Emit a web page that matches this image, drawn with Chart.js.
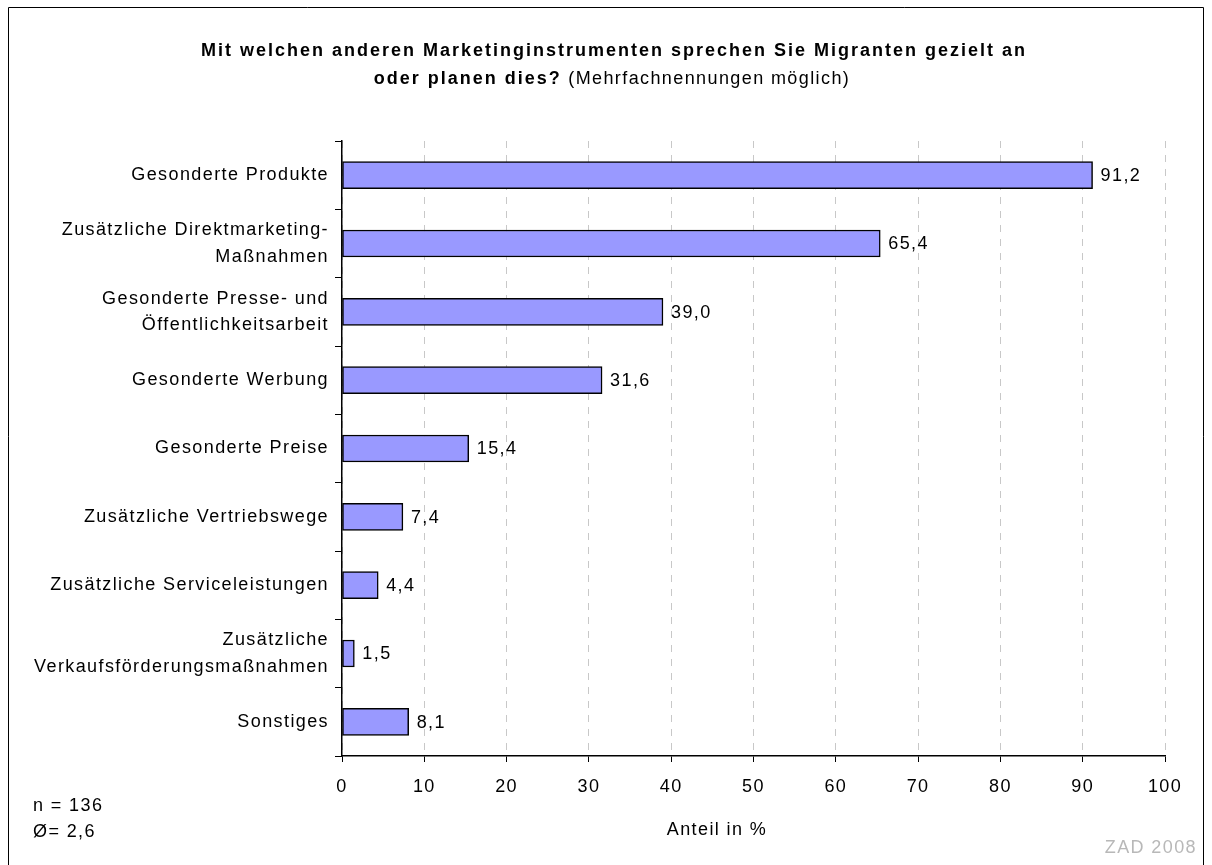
<!DOCTYPE html>
<html><head><meta charset="utf-8">
<script src="https://cdn.jsdelivr.net/npm/chart.js@4"></script>
<style>body{margin:0;background:#fff}canvas{display:block}</style>
</head><body>
<canvas id="c" width="1212" height="865"></canvas>
<script>
const categories = [
  "Gesonderte Produkte",
  ["Zusätzliche Direktmarketing-", "Maßnahmen"],
  ["Gesonderte Presse- und", "Öffentlichkeitsarbeit"],
  "Gesonderte Werbung",
  "Gesonderte Preise",
  "Zusätzliche Vertriebswege",
  "Zusätzliche Serviceleistungen",
  ["Zusätzliche", "Verkaufsförderungsmaßnahmen"],
  "Sonstiges"
];
const shares = [91.2, 65.4, 39.0, 31.6, 15.4, 7.4, 4.4, 1.5, 8.1];
const xTicks = [0, 10, 20, 30, 40, 50, 60, 70, 80, 90, 100];

const FONT = '"Liberation Sans", Arial, sans-serif';
const SP = '1.4px';
const fmt = v => v.toFixed(1).replace('.', ',');

const spacing = {
  id: 'spacing',
  beforeUpdate(chart) { chart.ctx.letterSpacing = SP; },
  beforeLayout(chart) { chart.ctx.letterSpacing = SP; },
  beforeDraw(chart) { chart.ctx.letterSpacing = SP; }
};

const extras = {
  id: 'extras',
  afterDraw(chart) {
    const ctx = chart.ctx;
    ctx.save();
    ctx.letterSpacing = SP;
    // frame
    ctx.strokeStyle = '#000'; ctx.lineWidth = 1;
    ctx.beginPath();
    ctx.moveTo(8.5, 870); ctx.lineTo(8.5, 7.5); ctx.lineTo(1203.5, 7.5); ctx.lineTo(1203.5, 870);
    ctx.stroke();
    // title
    ctx.fillStyle = '#000';
    ctx.textBaseline = 'middle';
    ctx.textAlign = 'center';
    ctx.letterSpacing = '2px';
    ctx.font = 'bold 18px ' + FONT;
    ctx.fillText('Mit welchen anderen Marketinginstrumenten sprechen Sie Migranten gezielt an', 614, 51);
    const b = 'oder planen dies?';
    ctx.letterSpacing = '2px';
    ctx.font = 'bold 18px ' + FONT; const wb = ctx.measureText(b).width;
    const n = ' (Mehrfachnennungen möglich)';
    ctx.letterSpacing = SP;
    ctx.font = '18px ' + FONT; const wn = ctx.measureText(n).width;
    let x0 = 612 - (wb + wn) / 2;
    ctx.textAlign = 'left';
    ctx.letterSpacing = '2px';
    ctx.font = 'bold 18px ' + FONT; ctx.fillText(b, x0, 79);
    ctx.letterSpacing = SP;
    ctx.font = '18px ' + FONT; ctx.fillText(n, x0 + wb, 79);
    // value labels
    const meta = chart.getDatasetMeta(0);
    ctx.font = '18px ' + FONT;
    ctx.textAlign = 'left';
    meta.data.forEach((bar, i) => {
      ctx.fillText(fmt(shares[i]), bar.x + 8, bar.y + 1);
    });
    // axis title
    ctx.textAlign = 'center';
    ctx.fillText('Anteil in %', 717, 830);
    // notes
    ctx.textAlign = 'left';
    ctx.fillText('n = 136', 33, 806);
    ctx.fillText('\u00D8= 2,6', 33, 832);
    ctx.fillStyle = '#b8b8b8';
    ctx.textAlign = 'right';
    ctx.fillText('ZAD 2008', 1197, 848);
    ctx.restore();
  }
};

new Chart(document.getElementById('c'), {
  type: 'bar',
  data: {
    labels: categories,
    datasets: [{
      data: shares,
      backgroundColor: '#9999FF',
      borderColor: '#000',
      borderWidth: 1.5,
      borderSkipped: false,
      barThickness: 27
    }]
  },
  options: {
    indexAxis: 'y',
    responsive: false,
    animation: false,
    layout: { padding: { left: 0, top: 141, right: 47, bottom: 0 } },
    plugins: { legend: { display: false }, tooltip: { enabled: false } },
    scales: {
      y: {
        afterFit(s) { s.width = 342; },
        grid: { drawOnChartArea: false, offset: true, tickLength: 7, color: '#000' },
        border: { color: '#000', width: 1.5 },
        ticks: { color: '#000', font: { family: FONT, size: 18, lineHeight: 1.45 }, padding: 6, autoSkip: false }
      },
      x: {
        min: 0, max: 100,
        afterFit(s) { s.height = 109; },
        afterBuildTicks(s) { s.ticks = xTicks.map(v => ({ value: v })); },
        grid: { color: '#c8c8c8', lineWidth: 1, tickColor: '#000', tickLength: 6, tickBorderDash: [] },
        border: { color: '#000', width: 1.5, dash: [7, 7] },
        ticks: { color: '#000', font: { family: FONT, size: 18 }, padding: 14 }
      }
    }
  },
  plugins: [spacing, extras]
});
</script>
</body></html>
